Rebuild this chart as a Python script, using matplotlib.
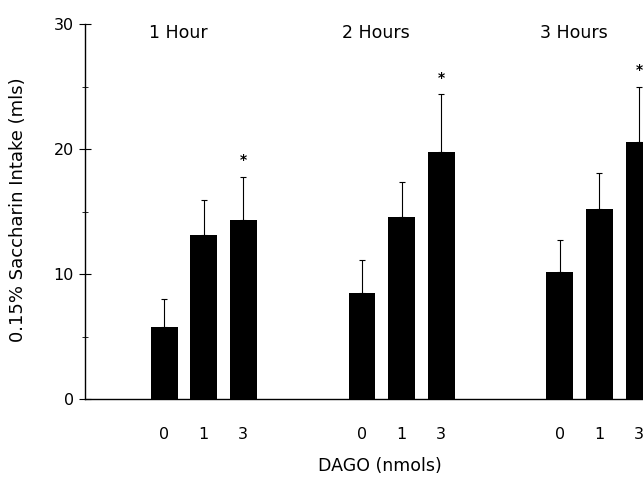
import matplotlib
matplotlib.use('Agg')
import matplotlib.pyplot as plt
import numpy as np

# 数据：每组 0/1/3 nmols DAGO 的平均摄入量和误差
groups = ['1 Hour', '2 Hours', '3 Hours']
doses = ['0', '1', '3']
means = [[5.8, 13.1, 14.3],
         [8.5, 14.6, 19.8],
         [10.2, 15.2, 20.6]]
errs = [[2.2, 2.8, 3.5],
        [2.6, 2.8, 4.6],
        [2.5, 2.9, 4.4]]
starred = [[False, False, True],
           [False, False, True],
           [False, False, True]]

fig = plt.figure(figsize=(6.43, 4.78), dpi=100)
ax = fig.add_axes([85 / 643, 79 / 478, 1 - 85 / 643, 375 / 478])

xs, tick_labels = [], []
for g in range(len(groups)):
    x = np.array([5 * g + j for j in range(len(doses))])
    m = np.array(means[g])
    e = np.array(errs[g])
    ax.bar(x, m, width=0.68, color='black', zorder=2)
    ax.errorbar(x, m, yerr=[np.zeros_like(e), e], fmt='none', ecolor='black',
                elinewidth=0.8, capsize=2, capthick=0.8, zorder=1)
    for xi, mi, ei, s in zip(x, m, e, starred[g]):
        if s:
            ax.text(xi, mi + ei + 1.3, '*', ha='center', va='center', fontsize=10, fontweight='bold')
    ax.text(5 * g + 0.35, 29.3, groups[g], ha='center', va='center', fontsize=12.5)
    xs.extend(x)
    tick_labels.extend(doses)

ax.set_xlim(-2, 12.1)
ax.set_ylim(0, 30)
ax.set_xticks(xs)
ax.set_xticklabels(tick_labels, fontsize=11.5)
ax.tick_params(axis='x', length=0, pad=20)
ax.set_yticks([0, 10, 20, 30])
ax.set_yticks([5, 15, 25], minor=True)
ax.tick_params(axis='y', which='major', direction='inout', length=8, labelsize=11.5, pad=4)
ax.tick_params(axis='y', which='minor', direction='inout', length=4)

for side in ['top', 'right']:
    ax.spines[side].set_visible(False)
ax.spines['left'].set_linewidth(1.0)
ax.spines['bottom'].set_linewidth(1.0)

fig.text(18 / 643, 1 - 210 / 478, '0.15% Saccharin Intake (mls)', rotation=90,
         ha='center', va='center', fontsize=13)
fig.text(380 / 643, 1 - 466 / 478, 'DAGO (nmols)', ha='center', va='center', fontsize=12.5)

fig.savefig('out.png', dpi=100)
